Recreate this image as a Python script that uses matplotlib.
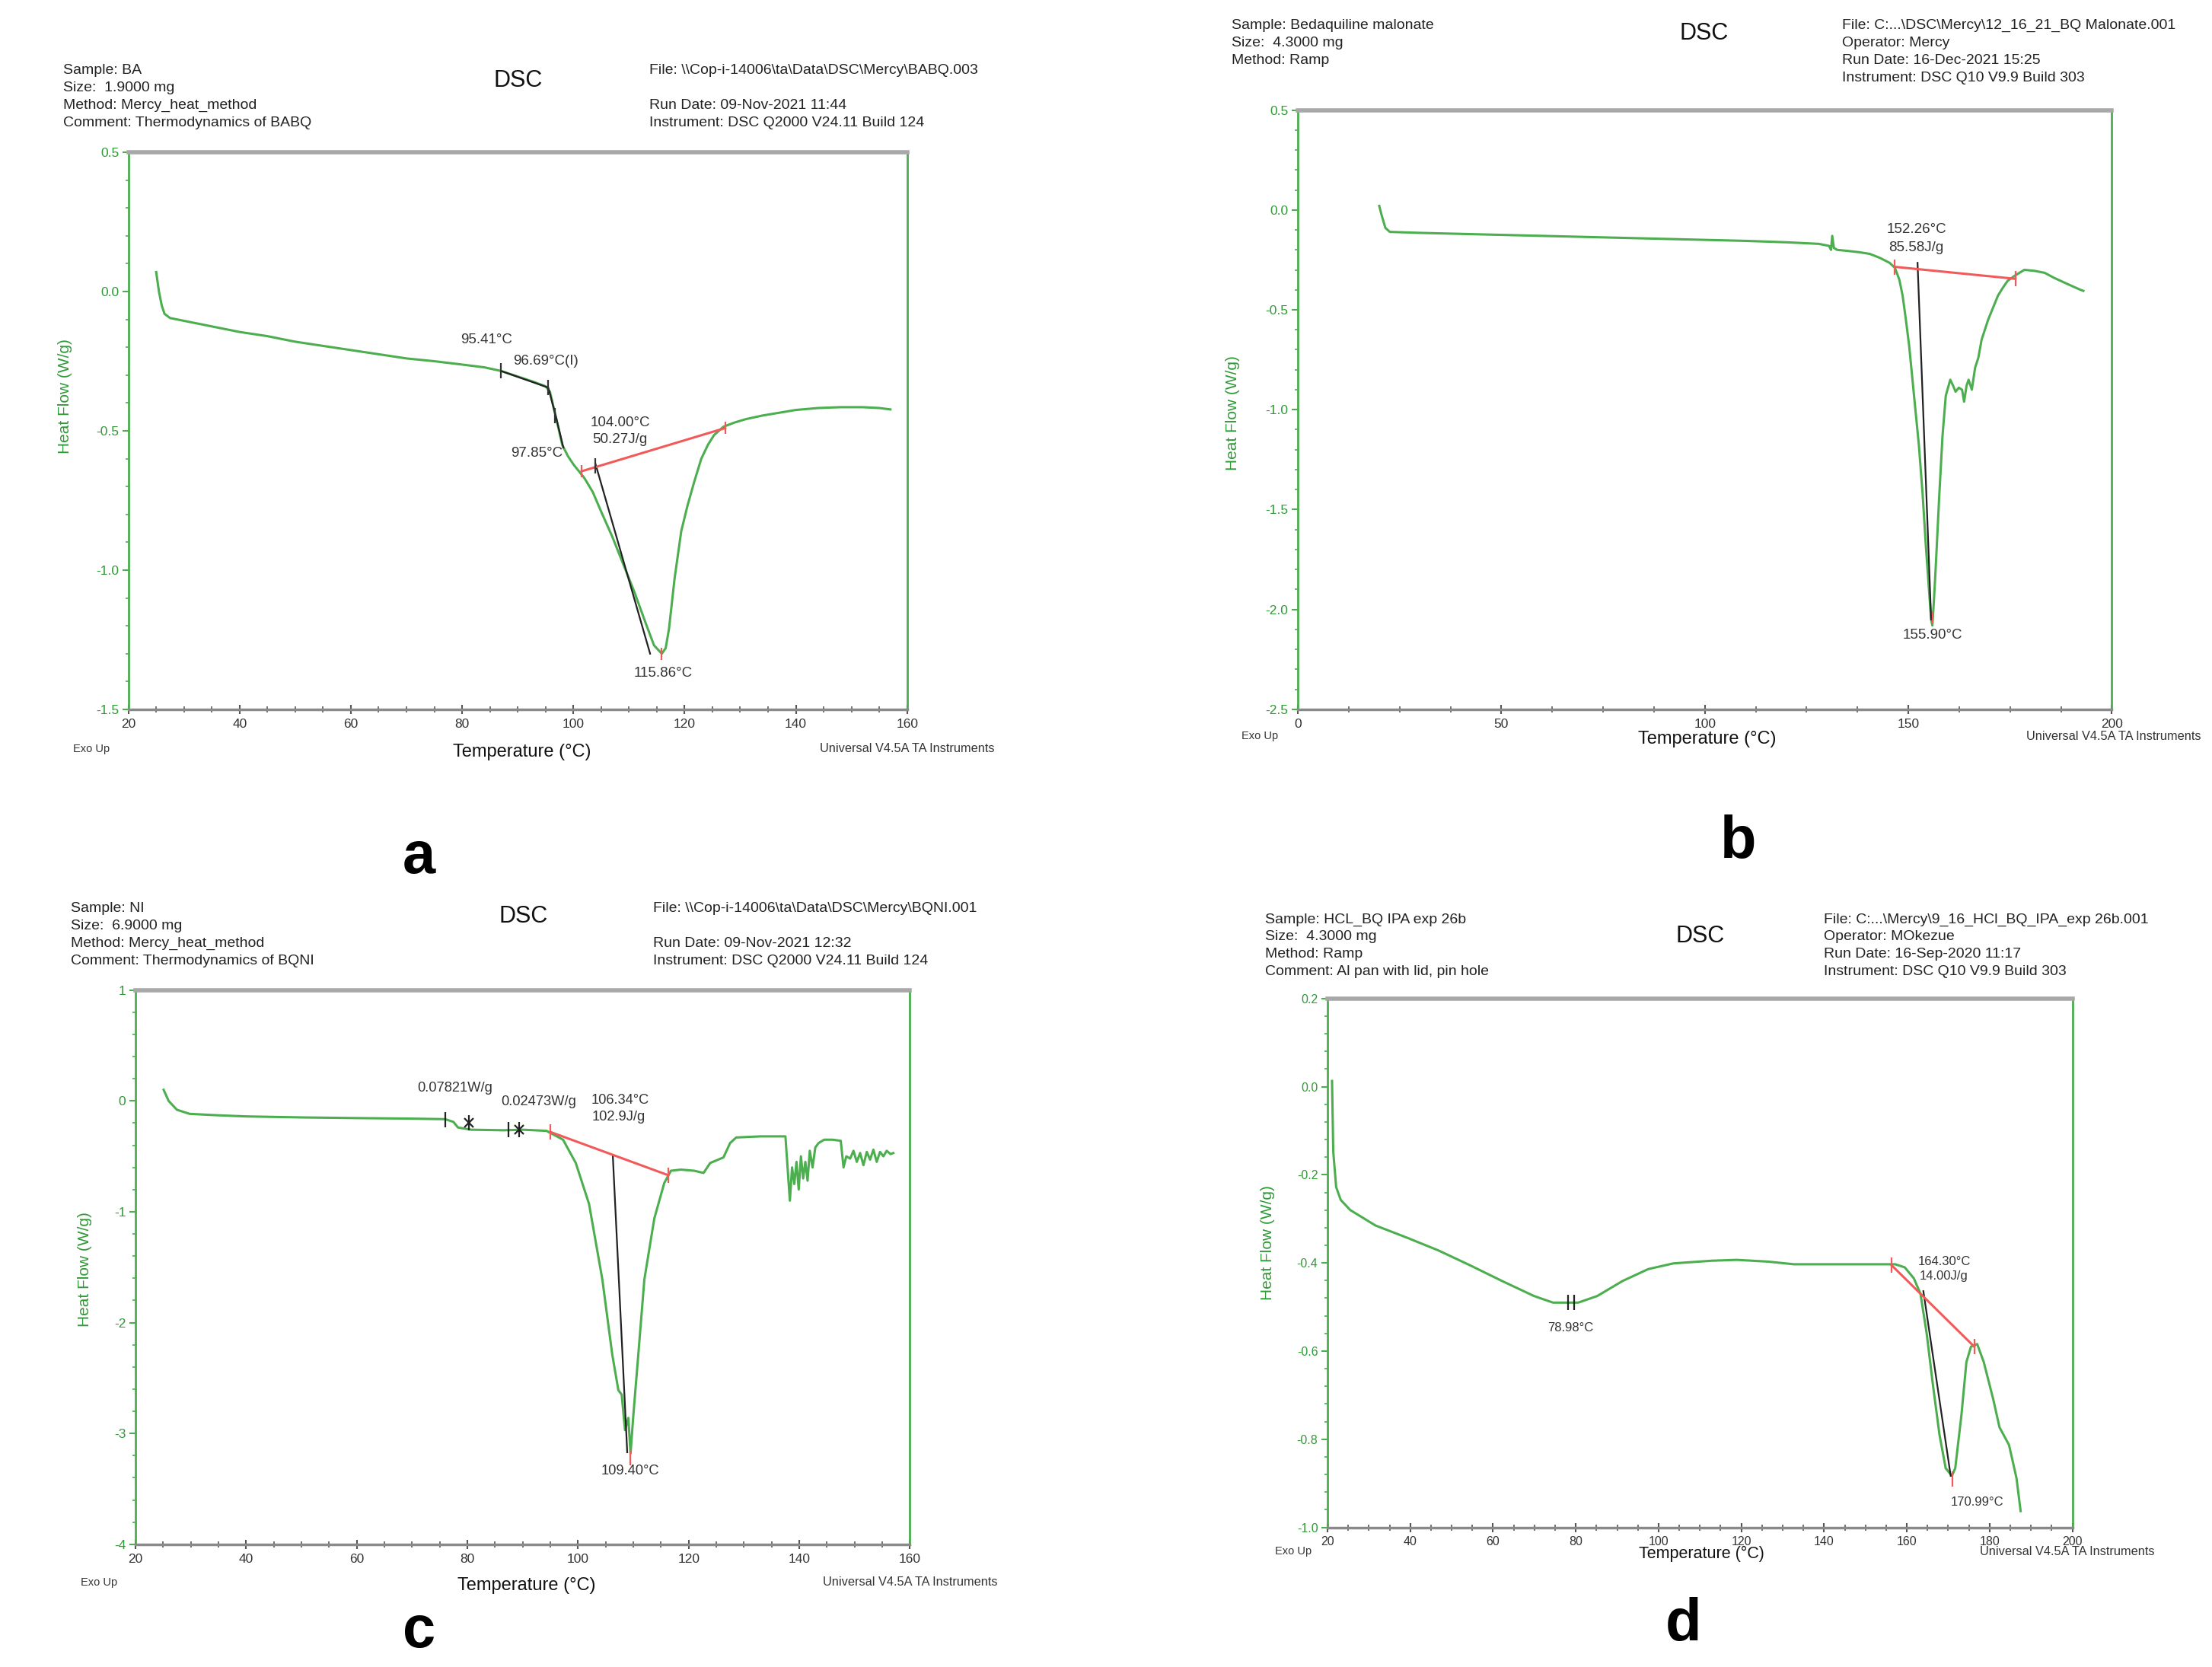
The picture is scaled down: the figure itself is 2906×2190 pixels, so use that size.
import matplotlib.pyplot as plt
from matplotlib.ticker import MultipleLocator, AutoMinorLocator, FormatStrFormatter

plt.rcParams['font.family'] = ['Liberation Sans', 'DejaVu Sans']
plt.rcParams['axes.unicode_minus'] = False

# ---- panel a : BA ----
a_temp = [25.0, 25.5, 26.0, 26.5, 27.5, 30, 35, 40, 45, 50, 55, 60, 65, 70, 75, 80, 84, 87,
          90, 93, 95, 95.8, 96.5, 97.2, 98, 99, 100, 101, 102, 103.5, 105, 107, 109, 111,
          113, 114.5, 115.9, 116.6, 117.2, 118.2, 119.4, 120.5, 121.7, 123, 124.2, 125.3,
          127, 129, 131, 134, 137, 140, 144, 148, 152, 155, 157]
a_flow = [0.07, 0.0, -0.05, -0.08, -0.095, -0.105, -0.125, -0.145, -0.16, -0.18, -0.195,
          -0.21, -0.225, -0.24, -0.25, -0.262, -0.272, -0.285, -0.305, -0.325, -0.34,
          -0.36, -0.42, -0.48, -0.55, -0.59, -0.62, -0.645, -0.67, -0.72, -0.79, -0.88,
          -0.98, -1.08, -1.19, -1.27, -1.30, -1.28, -1.21, -1.03, -0.86, -0.77, -0.685,
          -0.6, -0.55, -0.515, -0.485, -0.47, -0.458, -0.445, -0.435, -0.425, -0.418,
          -0.415, -0.415, -0.418, -0.423]
a_base_t = [101.5, 127.3]
a_base_v = [-0.645, -0.49]
a_tan1_t = [87.0, 95.5, 97.0, 98.2]
a_tan1_v = [-0.285, -0.345, -0.46, -0.56]
a_tan2_t = [104.0, 113.8]
a_tan2_v = [-0.62, -1.30]
a_marks_t = [87.0, 95.5, 96.7, 104.0]
a_marks_v = [-0.285, -0.345, -0.445, -0.625]
a_labels = ['95.41°C', '96.69°C(I)', '104.00°C', '50.27J/g', '97.85°C', '115.86°C']
a_label_t = [84.4, 95.1, 108.4, 108.3, 93.4, 116.1]
a_label_v = [-0.174, -0.249, -0.472, -0.531, -0.58, -1.369]

# ---- panel b : Bedaquiline malonate ----
b_temp = [20, 20.5, 21.5, 22.6, 30, 40, 50, 60, 70, 80, 90, 100, 110, 120, 128, 130.5,
          131.0, 131.3, 131.7, 132.5, 135, 138, 140.5, 143, 145.4, 146.7, 147.8, 148.6,
          149.4, 150.2, 151.4, 152.6, 153.5, 154.3, 155.0, 155.6, 155.9, 156.3, 156.7,
          157.6, 158.4, 159.2, 160.3, 161.0, 161.6, 162.4, 163.2, 163.7, 164.3, 164.8,
          165.6, 166.4, 167.2, 168.0, 169.6, 171, 172.0, 173.2, 174.4, 176.1, 178.5,
          181, 183.5, 185.8, 189, 192.3, 193]
b_flow = [0.02, -0.02, -0.09, -0.11, -0.115, -0.12, -0.125, -0.13, -0.135, -0.14, -0.145,
          -0.15, -0.155, -0.162, -0.17, -0.18, -0.2, -0.13, -0.19, -0.2, -0.205, -0.212,
          -0.22, -0.24, -0.265, -0.29, -0.35, -0.43, -0.55, -0.68, -0.93, -1.18, -1.42,
          -1.68, -1.88, -2.05, -2.08, -1.95, -1.8, -1.43, -1.13, -0.93, -0.85, -0.88,
          -0.91, -0.89, -0.9, -0.96, -0.88, -0.85, -0.9, -0.79, -0.74, -0.65, -0.55,
          -0.48, -0.43, -0.39, -0.355, -0.33, -0.30, -0.305, -0.315, -0.34, -0.37,
          -0.40, -0.405]
b_base_t = [146.7, 176.3]
b_base_v = [-0.285, -0.345]
b_tan_t = [152.26, 155.6]
b_tan_v = [-0.265, -2.05]
b_labels = ['152.26°C', '85.58J/g', '155.90°C']
b_label_t = [152.1, 151.9, 155.9]
b_label_v = [-0.098, -0.19, -2.13]

# ---- panel c : NI ----
c_temp = [25.1, 26.0, 27.5, 29.8, 35, 40, 50, 60, 70, 76, 77.5, 78.3, 80.7, 86.6, 90,
          94.3, 97.3, 99.6, 102, 104.4, 106.2, 107.3, 107.9, 108.5, 109.1, 109.5, 110,
          110.9, 112, 113.8, 115.6, 116.8, 118.6, 121, 122.7, 123.9, 126.3, 127.5,
          128.6, 133, 137.5, 138.3, 138.7, 139.1, 139.5, 139.9, 140.3, 140.7, 141.1,
          141.5, 141.9, 142.4, 142.9, 143.5, 144.5, 146, 147.5, 148.0, 148.5, 149.2,
          149.8, 150.4, 151, 151.6, 152.2, 152.8, 153.4, 154, 154.6, 155.2, 155.8,
          156.5, 157]
c_flow = [0.1, 0.0, -0.08, -0.117, -0.13, -0.14, -0.149, -0.155, -0.16, -0.165, -0.19,
          -0.24, -0.26, -0.265, -0.26, -0.27, -0.35, -0.56, -0.93, -1.61, -2.29, -2.61,
          -2.65, -2.97, -2.86, -3.18, -2.84, -2.29, -1.61, -1.06, -0.74, -0.63, -0.62,
          -0.63, -0.65, -0.56, -0.51, -0.38, -0.33, -0.32, -0.32, -0.9, -0.6, -0.75,
          -0.55, -0.8, -0.5, -0.7, -0.55, -0.72, -0.45, -0.6, -0.42, -0.38, -0.35,
          -0.35, -0.36, -0.6, -0.5, -0.52, -0.45, -0.55, -0.47, -0.58, -0.46, -0.53,
          -0.44, -0.55, -0.46, -0.5, -0.45, -0.48, -0.47]
c_base_t = [95.0, 116.3]
c_base_v = [-0.28, -0.67]
c_tan_t = [106.3, 108.9]
c_tan_v = [-0.5, -3.17]
c_marks_t = [76.0, 80.3, 87.5, 89.3]
c_marks_v = [-0.17, -0.2, -0.26, -0.26]
c_labels = ['0.07821W/g', '0.02473W/g', '106.34°C', '102.9J/g', '109.40°C']
c_label_t = [77.7, 92.9, 107.6, 107.4, 109.5]
c_label_v = [0.116, -0.01, 0.002, -0.149, -3.34]

# ---- panel d : HCL_BQ IPA ----
d_temp = [21.1, 21.4, 22.1, 23.2, 25.5, 31.6, 39.3, 46.9, 54.6, 62.2, 69.9, 74.5, 80.6,
          85.2, 91.3, 97.5, 103.6, 112.8, 118.9, 126.5, 132.7, 146.4, 157.2, 159.5,
          161.7, 163.3, 164.8, 166.3, 167.9, 169.4, 170.9, 171.7, 173.2, 174.4, 175.5,
          177, 178.6, 180.9, 182.4, 184.7, 186.5, 187.5]
d_flow = [0.013, -0.148, -0.228, -0.257, -0.28, -0.315, -0.343, -0.372, -0.406, -0.441,
          -0.475, -0.49, -0.49, -0.475, -0.441, -0.414, -0.401, -0.395, -0.393, -0.397,
          -0.403, -0.403, -0.403, -0.41, -0.435, -0.47, -0.56, -0.676, -0.79, -0.866,
          -0.883, -0.866, -0.745, -0.625, -0.59, -0.584, -0.625, -0.71, -0.773, -0.813,
          -0.888, -0.963]
d_base_t = [156.3, 176.3]
d_base_v = [-0.405, -0.59]
d_tan_t = [164.0, 170.6]
d_tan_v = [-0.464, -0.883]
d_labels = ['78.98°C', '164.30°C', '14.00J/g', '170.99°C']
d_label_t = [78.8, 169.1, 168.9, 177.0]
d_label_v = [-0.548, -0.397, -0.43, -0.943]

# ---- header / footer text ----
a_left = ['Sample: BA', 'Size:  1.9000 mg', 'Method: Mercy_heat_method',
          'Comment: Thermodynamics of BABQ']
a_right = [r'File: \\Cop-i-14006\ta\Data\DSC\Mercy\BABQ.003', '',
           'Run Date: 09-Nov-2021 11:44', 'Instrument: DSC Q2000 V24.11 Build 124']
b_left = ['Sample: Bedaquiline malonate', 'Size:  4.3000 mg', 'Method: Ramp']
b_right = [r'File: C:...\DSC\Mercy\12_16_21_BQ Malonate.001', 'Operator: Mercy',
           'Run Date: 16-Dec-2021 15:25', 'Instrument: DSC Q10 V9.9 Build 303']
c_left = ['Sample: NI', 'Size:  6.9000 mg', 'Method: Mercy_heat_method',
          'Comment: Thermodynamics of BQNI']
c_right = [r'File: \\Cop-i-14006\ta\Data\DSC\Mercy\BQNI.001', '',
           'Run Date: 09-Nov-2021 12:32', 'Instrument: DSC Q2000 V24.11 Build 124']
d_left = ['Sample: HCL_BQ IPA exp 26b', 'Size:  4.3000 mg', 'Method: Ramp',
          'Comment: Al pan with lid, pin hole']
d_right = [r'File: C:...\Mercy\9_16_HCl_BQ_IPA_exp 26b.001', 'Operator: MOkezue',
           'Run Date: 16-Sep-2020 11:17', 'Instrument: DSC Q10 V9.9 Build 303']

GREEN = '#4cae4f'
GREEN_TXT = '#2f9a36'
RED = '#f25a5a'

fig = plt.figure(figsize=(29.06, 21.90), dpi=100)
REF_W, REF_H = 1568, 1182


def fx(px):
    return px / REF_W


def fy(py):
    return 1 - py / REF_H


def make_axes(x0, y0, x1, y1, xlim, ylim, xstep, ystep, yfmt, ticksize, label_xy):
    ax = fig.add_axes([fx(x0), fy(y1), fx(x1) - fx(x0), fy(y0) - fy(y1)])
    ax.set_xlim(*xlim)
    ax.set_ylim(*ylim)
    ax.xaxis.set_major_locator(MultipleLocator(xstep))
    ax.yaxis.set_major_locator(MultipleLocator(ystep))
    ax.xaxis.set_minor_locator(AutoMinorLocator(4))
    ax.yaxis.set_minor_locator(AutoMinorLocator(5))
    ax.yaxis.set_major_formatter(FormatStrFormatter(yfmt))
    ax.spines['left'].set_color(GREEN)
    ax.spines['right'].set_color(GREEN)
    ax.spines['left'].set_linewidth(2)
    ax.spines['right'].set_linewidth(2)
    ax.spines['top'].set_color('#a8a8a8')
    ax.spines['top'].set_linewidth(4)
    ax.spines['bottom'].set_color('#8a8a8a')
    ax.spines['bottom'].set_linewidth(2.5)
    ax.tick_params(axis='x', which='major', direction='inout', length=9, width=1.5,
                   colors='#555555', labelcolor='#333333', labelsize=ticksize, pad=4)
    ax.tick_params(axis='x', which='minor', direction='inout', length=6, width=1.2,
                   colors='#555555')
    ax.tick_params(axis='y', which='major', direction='out', length=6, width=1.5,
                   colors=GREEN, labelcolor=GREEN_TXT, labelsize=ticksize, pad=3)
    ax.tick_params(axis='y', which='minor', direction='out', length=3, width=1.2,
                   colors=GREEN)
    ax.set_ylabel('Heat Flow (W/g)', color=GREEN_TXT, fontsize=15)
    ax.yaxis.set_label_coords(*label_xy)
    return ax


def header(xl, xr, ytop, left_lines, right_lines, dsc_xy):
    for i, line in enumerate(left_lines):
        fig.text(fx(xl), fy(ytop + 12.4 * i), line, fontsize=14, va='center', color='#222222')
    for i, line in enumerate(right_lines):
        fig.text(fx(xr), fy(ytop + 12.4 * i), line, fontsize=14, va='center', color='#222222')
    fig.text(fx(dsc_xy[0]), fy(dsc_xy[1]), 'DSC', fontsize=22, ha='center', va='center',
             color='#111111')


def footer(exo_xy, temp_xy, univ_xy, letter, letter_xy, tempsize=17):
    fig.text(fx(exo_xy[0]), fy(exo_xy[1]), 'Exo Up', fontsize=10.5, ha='center', va='center',
             color='#333333')
    fig.text(fx(temp_xy[0]), fy(temp_xy[1]), 'Temperature (°C)', fontsize=tempsize,
             ha='center', va='center', color='#111111')
    fig.text(fx(univ_xy[0]), fy(univ_xy[1]), 'Universal V4.5A TA Instruments', fontsize=11.8,
             ha='right', va='center', color='#333333')
    fig.text(fx(letter_xy[0]), fy(letter_xy[1]), letter, fontsize=56, fontweight='bold',
             ha='center', va='center', color='black')


def labels(ax, texts, tx, ty, size=13.5):
    for s, x, y in zip(texts, tx, ty):
        ax.text(x, y, s, fontsize=size, ha='center', va='center', color='#333333')


# ---- panel a ----
ax = make_axes(91, 108, 643, 503, (20, 160), (-1.5, 0.5), 20, 0.5, '%.1f', 12.5,
               (-0.072, 0.562))
ax.plot(a_temp, a_flow, color=GREEN, lw=2.2)
ax.plot(a_tan1_t, a_tan1_v, color='#222222', lw=1.6)
ax.plot(a_tan2_t, a_tan2_v, color='#222222', lw=1.6)
ax.plot(a_base_t, a_base_v, color=RED, lw=2.2)
ax.plot(a_marks_t, a_marks_v, ls='none', marker='|', ms=14, mew=1.6, color='#333333')
ax.plot(a_base_t + [115.86], a_base_v + [-1.3], ls='none', marker='|', ms=12, mew=1.6,
        color=RED)
labels(ax, a_labels, a_label_t, a_label_v)
header(45, 460, 50, a_left, a_right, (367, 57))
footer((65, 531), (370, 533), (705, 531), 'a', (297, 608))

# ---- panel b ----
ax = make_axes(920, 78, 1497, 503, (0, 200), (-2.5, 0.5), 50, 0.5, '%.1f', 12.5,
               (-0.071, 0.494))
ax.plot(b_temp, b_flow, color=GREEN, lw=2.2)
ax.plot(b_tan_t, b_tan_v, color='#222222', lw=1.6)
ax.plot(b_base_t, b_base_v, color=RED, lw=2.2)
ax.plot(b_base_t, b_base_v, ls='none', marker='|', ms=14, mew=1.6, color=RED)
ax.plot([155.9], [-2.04], ls='none', marker='|', ms=12, mew=1.6, color=RED)
labels(ax, b_labels, b_label_t, b_label_v)
header(873, 1306, 18, b_left, b_right, (1208, 24))
footer((893, 522), (1210, 524), (1560, 522), 'b', (1232, 597))

# ---- panel c ----
ax = make_axes(96, 702, 645, 1095, (20, 160), (-4, 1), 20, 1, '%d', 12.5,
               (-0.056, 0.496))
ax.plot(c_temp, c_flow, color=GREEN, lw=2.2)
ax.plot(c_tan_t, c_tan_v, color='#222222', lw=1.6)
ax.plot(c_base_t, c_base_v, color=RED, lw=2.2)
ax.plot(c_marks_t, c_marks_v, ls='none', marker='|', ms=14, mew=1.6, color='#222222')
ax.plot([80.3, 89.3], [-0.2, -0.26], ls='none', marker='x', ms=9, mew=1.6, color='#222222')
ax.plot(c_base_t + [109.4], c_base_v + [-3.22], ls='none', marker='|', ms=14, mew=1.6,
        color=RED)
labels(ax, c_labels, c_label_t, c_label_v, 13.2)
header(50, 463, 644, c_left, c_right, (371, 650))
footer((70, 1122), (373, 1124), (707, 1122), 'c', (297, 1157))

# ---- panel d ----
ax = make_axes(941, 708, 1469, 1083, (20, 200), (-1.0, 0.2), 20, 0.2, '%.1f', 11.5,
               (-0.070, 0.539))
ax.plot(d_temp, d_flow, color=GREEN, lw=2.2)
ax.plot(d_tan_t, d_tan_v, color='#222222', lw=1.6)
ax.plot(d_base_t, d_base_v, color=RED, lw=2.2)
ax.plot([78.2, 79.6], [-0.49, -0.49], ls='none', marker='|', ms=14, mew=1.6, color='#222222')
ax.plot(d_base_t + [170.99], d_base_v + [-0.89], ls='none', marker='|', ms=14, mew=1.6,
        color=RED)
labels(ax, d_labels, d_label_t, d_label_v, 12)
header(897, 1293, 652, d_left, d_right, (1205, 664))
footer((917, 1100), (1206, 1102), (1527, 1100), 'd', (1193, 1152), tempsize=15.5)

fig.savefig('out.png', dpi=100, facecolor='white')
